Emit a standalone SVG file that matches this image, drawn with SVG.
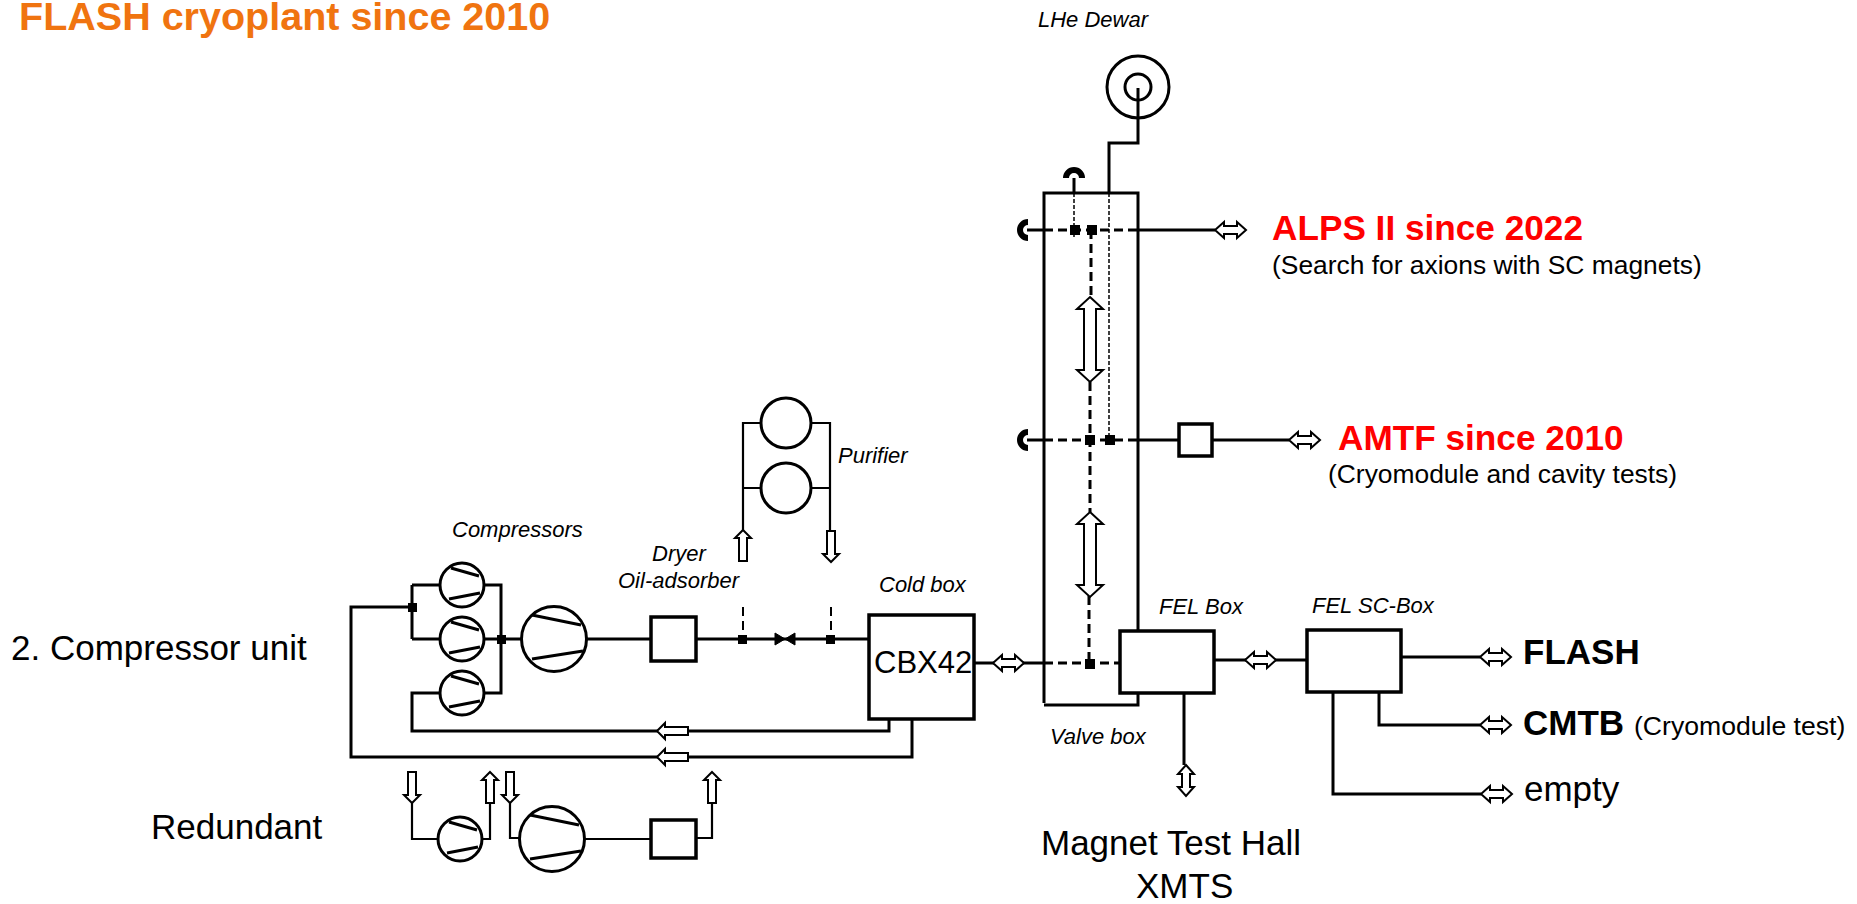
<svg xmlns="http://www.w3.org/2000/svg" width="1857" height="904" viewBox="0 0 1857 904">
<style>
text{font-family:"Liberation Sans",Arial,sans-serif;fill:#000}
.i{font-style:italic;font-size:22px}
.b{font-weight:bold}
.red{fill:#f00;font-weight:bold;font-size:35.2px}
.sub{font-size:26.4px}
.big{font-size:35px}
.box{fill:#fff;stroke:#000;stroke-width:3.5}
.circ{fill:#fff;stroke:#000;stroke-width:3}
.l{fill:none;stroke:#000;stroke-width:3}
.t{fill:none;stroke:#000;stroke-width:2.2}
.d{fill:none;stroke:#000;stroke-width:3;stroke-dasharray:9 5}
.f{fill:none;stroke:#000;stroke-width:1.5;stroke-dasharray:4 2}
.cap{fill:none;stroke:#000;stroke-width:6}
.a{fill:#fff;stroke:#000;stroke-width:2}
.n{fill:#000}
</style>
<defs>
<g id="comp"><circle class="circ" r="22"/><path class="l" d="M-11-17 17-9M-13 14 18 8"/></g>
<g id="compB"><circle class="circ" r="32.5"/><path class="l" d="M-22-24 27-14M-22 20 29 12"/></g>
<path id="dbl" class="a" d="M0 0 9-8V-4H22V-8L31 0 22 8V4H9V8Z"/>
<path id="sgl" class="a" d="M0 0 8-8V-4H31V4H8V8Z"/>
<path id="dblL" class="a" d="M0 0 12-13V-6H73V-13L85 0 73 13V6H12V13Z"/>
</defs>

<g id="connectors">
<path class="l" d="M412 607H351V757H912V719M412 585V639M440 585H412M440 639H412M889 719V731H412V693H440M484 585H501V693H484M484 639H521M587 639H651M696 639H868"/>
<path class="l" d="M975 663H1044M1138 230H1215M1212 440H1289M1214 660H1307M1401 657H1480M1379 692V725H1480M1333 692V794H1481M1184 693V765"/>
<path class="l" d="M1138 88V143H1109V193M1074 178V193M1027 230H1044M1027 440H1044M1138 440H1179"/>
<path class="d" d="M1044 230H1138M1044 440H1138M1044 663H1120M1091 230V297M1090 382V512M1089 596V663"/>
<path class="f" d="M1074 193V237M1109 193V440"/>
<path class="d" d="M743 607V636M831 607V636" style="stroke-width:2"/>
<path class="t" d="M743 530V423H762M743 488H762M810 423H830V530M810 488H830"/>
<path class="t" d="M412 803V839H438M482 839H490V803M510 803V838H520M585 839H651M696 838H712V803"/>
<path class="cap" d="M1028 222A8 8 0 0 0 1028 238M1028 432A8 8 0 0 0 1028 448M1066 178A8 8 0 0 1 1082 178"/>
<g class="n">
<rect x="408" y="603" width="9" height="9"/><rect x="497" y="635" width="9" height="9"/>
<rect x="738" y="635" width="9" height="9"/><rect x="826" y="635" width="9" height="9"/>
<path d="M775 633 785 639 775 645ZM795 633 785 639 795 645Z" stroke="#000"/>
<rect x="1070" y="225" width="10" height="10"/><rect x="1087" y="225" width="10" height="10"/>
<rect x="1085" y="435" width="10" height="10"/><rect x="1105" y="435" width="10" height="10"/>
<rect x="1085" y="659" width="10" height="10"/>
</g>
<use href="#sgl" transform="translate(743 530) rotate(90)"/>
<use href="#sgl" transform="translate(831 562) rotate(-90)"/>
<use href="#sgl" x="657" y="731"/>
<use href="#sgl" x="657" y="757"/>
<use href="#sgl" transform="translate(412 803) rotate(-90)"/>
<use href="#sgl" transform="translate(490 772) rotate(90)"/>
<use href="#sgl" transform="translate(510 803) rotate(-90)"/>
<use href="#sgl" transform="translate(712 772) rotate(90)"/>
<use href="#dbl" x="1215" y="230"/>
<use href="#dbl" x="1289" y="440"/>
<use href="#dbl" x="993" y="663"/>
<use href="#dbl" x="1245" y="660"/>
<use href="#dbl" x="1480" y="657"/>
<use href="#dbl" x="1480" y="725"/>
<use href="#dbl" x="1481" y="794"/>
<use href="#dbl" transform="translate(1186 765) rotate(90)"/>
<use href="#dblL" transform="translate(1090 297) rotate(90)"/>
<use href="#dblL" transform="translate(1090 512) rotate(90)"/>
</g>

<g id="valve-box"><path class="l" d="M1044 703V193H1138V631M1044 705H1138V693"/><text class="i" x="1050" y="744">Valve box</text></g>
<g id="lhe-dewar"><circle cx="1138" cy="87" r="31" class="l"/><circle cx="1138" cy="87" r="13" class="l"/><text class="i" x="1038" y="27">LHe Dewar</text></g>
<g id="compressor-1"><use href="#comp" x="462" y="585"/></g>
<g id="compressor-2"><use href="#comp" x="462" y="639"/></g>
<g id="compressor-3"><use href="#comp" x="462" y="693"/></g>
<g id="compressor-main"><use href="#compB" x="554" y="639"/><text class="i" x="452" y="537">Compressors</text></g>
<g id="dryer"><rect class="box" x="651" y="617" width="45" height="44"/><text class="i" x="652" y="561">Dryer</text><text class="i" x="618" y="588">Oil-adsorber</text></g>
<g id="purifier"><circle class="circ" cx="786" cy="423" r="25"/><circle class="circ" cx="786" cy="488" r="25"/><text class="i" x="838" y="463">Purifier</text></g>
<g id="cold-box"><rect class="box" x="869" y="615" width="105" height="104"/><text x="874" y="673" style="font-size:31px">CBX42</text><text class="i" x="879" y="592">Cold box</text></g>
<g id="amtf-box"><rect class="box" x="1179" y="424" width="33" height="32"/></g>
<g id="fel-box"><rect class="box" x="1120" y="631" width="94" height="62"/><text class="i" x="1159" y="614">FEL Box</text></g>
<g id="fel-sc-box"><rect class="box" x="1307" y="630" width="94" height="62"/><text class="i" x="1312" y="613">FEL SC-Box</text></g>
<g id="redundant-small"><use href="#comp" x="460" y="839"/></g>
<g id="redundant-main"><use href="#compB" x="552" y="839"/></g>
<g id="redundant-box"><rect class="box" x="651" y="820" width="45" height="38"/></g>

<g id="labels">
<text class="b" x="19" y="30" style="font-size:39.5px;fill:#f07410">FLASH cryoplant since 2010</text>
<text x="11" y="660" style="font-size:35px">2. Compressor unit</text>
<text x="151" y="839" style="font-size:35px">Redundant</text>
<text class="big" x="1041" y="855">Magnet Test Hall</text>
<text class="big" x="1136" y="898">XMTS</text>
<text class="red" x="1272" y="240">ALPS II since 2022</text>
<text class="sub" x="1272" y="274">(Search for axions with SC magnets)</text>
<text class="red" x="1338" y="450">AMTF since 2010</text>
<text class="sub" x="1328" y="483">(Cryomodule and cavity tests)</text>
<text class="b" x="1523" y="664" style="font-size:35px">FLASH</text>
<text class="b" x="1523" y="735" style="font-size:35px">CMTB</text>
<text x="1634" y="735" style="font-size:26.6px">(Cryomodule test)</text>
<text x="1524" y="801" style="font-size:35px">empty</text>
</g>
</svg>
